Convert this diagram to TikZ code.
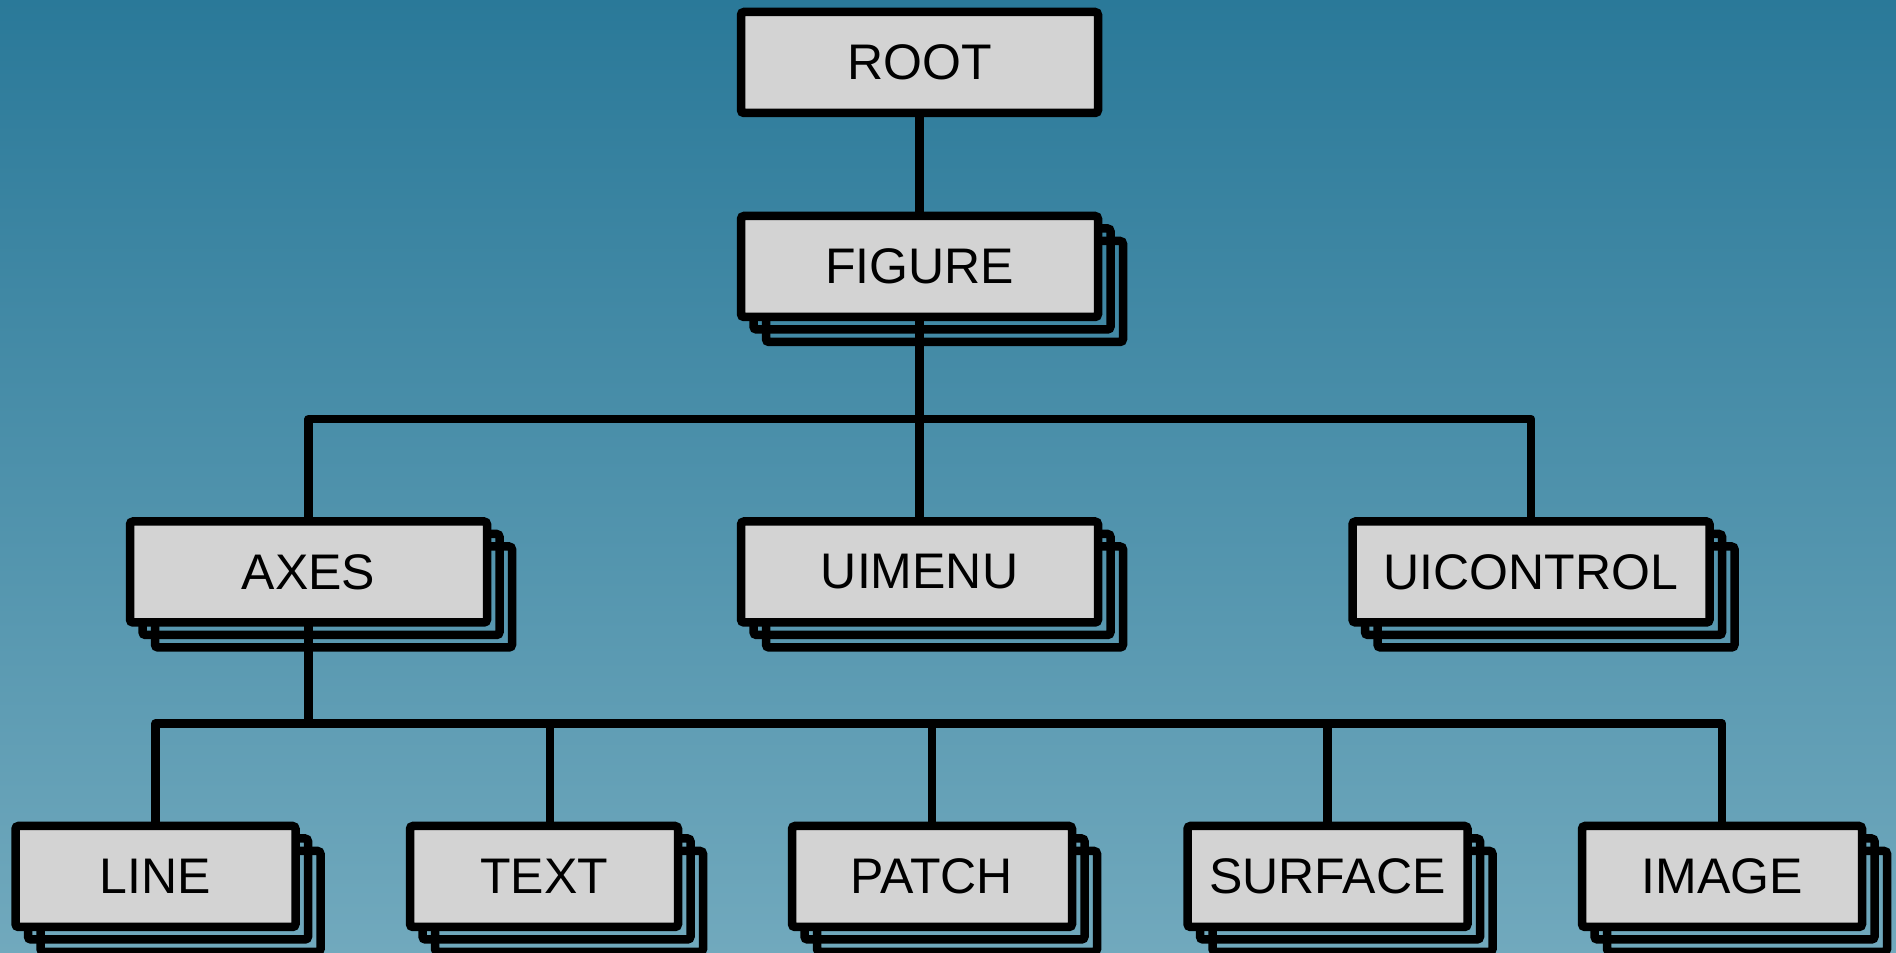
\documentclass[tikz,border=0pt]{standalone}
\usepackage{fontspec}
\setmainfont{Liberation Sans}
\usetikzlibrary{positioning}
\pgfdeclarelayer{bg}
\pgfdeclarelayer{back}
\pgfsetlayers{bg,back,main}
\definecolor{bgtop}{RGB}{42,121,153}
\definecolor{bgbot}{RGB}{113,169,189}
\definecolor{boxfill}{RGB}{211,211,211}
\tikzset{
  box/.style={draw=black, fill=boxfill, line width=4.25pt, rounded corners=1.5pt,
    inner sep=0pt, outer sep=0pt, minimum width=178.5pt, minimum height=50.5pt,
    font=\fontsize{25}{30}\selectfont, text=black},
  leaf/.style={box, minimum width=140pt},
  backbox/.style={draw=black, line width=4.25pt, rounded corners=1.5pt},
  wire/.style={draw=black, line width=4.25pt, line join=round},
}
% two outline copies behind a box, stepping down and to the right
\newcommand{\stackbehind}[1]{%
  \begin{pgfonlayer}{back}
    \draw[backbox] ([shift={(25,-25)}]#1.north west) rectangle ([shift={(25,-25)}]#1.south east);
    \draw[backbox] ([shift={(12.5,-12.5)}]#1.north west) rectangle ([shift={(12.5,-12.5)}]#1.south east);
  \end{pgfonlayer}}
\begin{document}
\begin{tikzpicture}[x=0.5pt,y=0.5pt]
  \begin{pgfonlayer}{bg}
    \shade[top color=bgtop, bottom color=bgbot] (0,0) rectangle (1896,953);
  \end{pgfonlayer}
  \useasboundingbox (0,0) rectangle (1896,953);

  % hierarchy nodes
  \node[box] (root)      at (919.5,890.5) {ROOT};
  \node[box] (figure)    at (919.5,686.5) {FIGURE};
  \node[box] (axes)      at (308.5,381)   {AXES};
  \node[box] (uimenu)    at (919.5,381)   {UIMENU};
  \node[box] (uicontrol) at (1531,381)    {UICONTROL};
  \node[leaf] (line)     at (155.5,76.5)  {LINE};
  \node[leaf, minimum width=134pt] (text) at (544,76.5) {TEXT};
  \node[leaf] (patch)    at (932,76.5)    {PATCH};
  \node[leaf] (surface)  at (1327.5,76.5) {SURFACE};
  \node[leaf] (image)    at (1722,76.5)   {IMAGE};

  \foreach \n in {figure,axes,uimenu,uicontrol,line,text,patch,surface,image}{\stackbehind{\n}}

  % bus points of the two branch levels
  \coordinate (bus1) at (919.5,534);
  \coordinate (bus2) at (308.5,229.5);
  \coordinate (textin) at ([xshift=3pt]text.north);

  \begin{pgfonlayer}{back}
    \draw[wire] (root.south) -- (figure.north);
    \draw[wire] (figure.south) -- (uimenu.north);
    \draw[wire] (axes.north) |- (bus1) -| (uicontrol.north);
    \draw[wire] (axes.south) -- (bus2);
    \draw[wire] (line.north) |- (bus2) -| (image.north);
    \draw[wire] (textin) -- (textin |- bus2);
    \draw[wire] (patch.north) -- (patch.north |- bus2);
    \draw[wire] (surface.north) -- (surface.north |- bus2);
  \end{pgfonlayer}
\end{tikzpicture}
\end{document}
